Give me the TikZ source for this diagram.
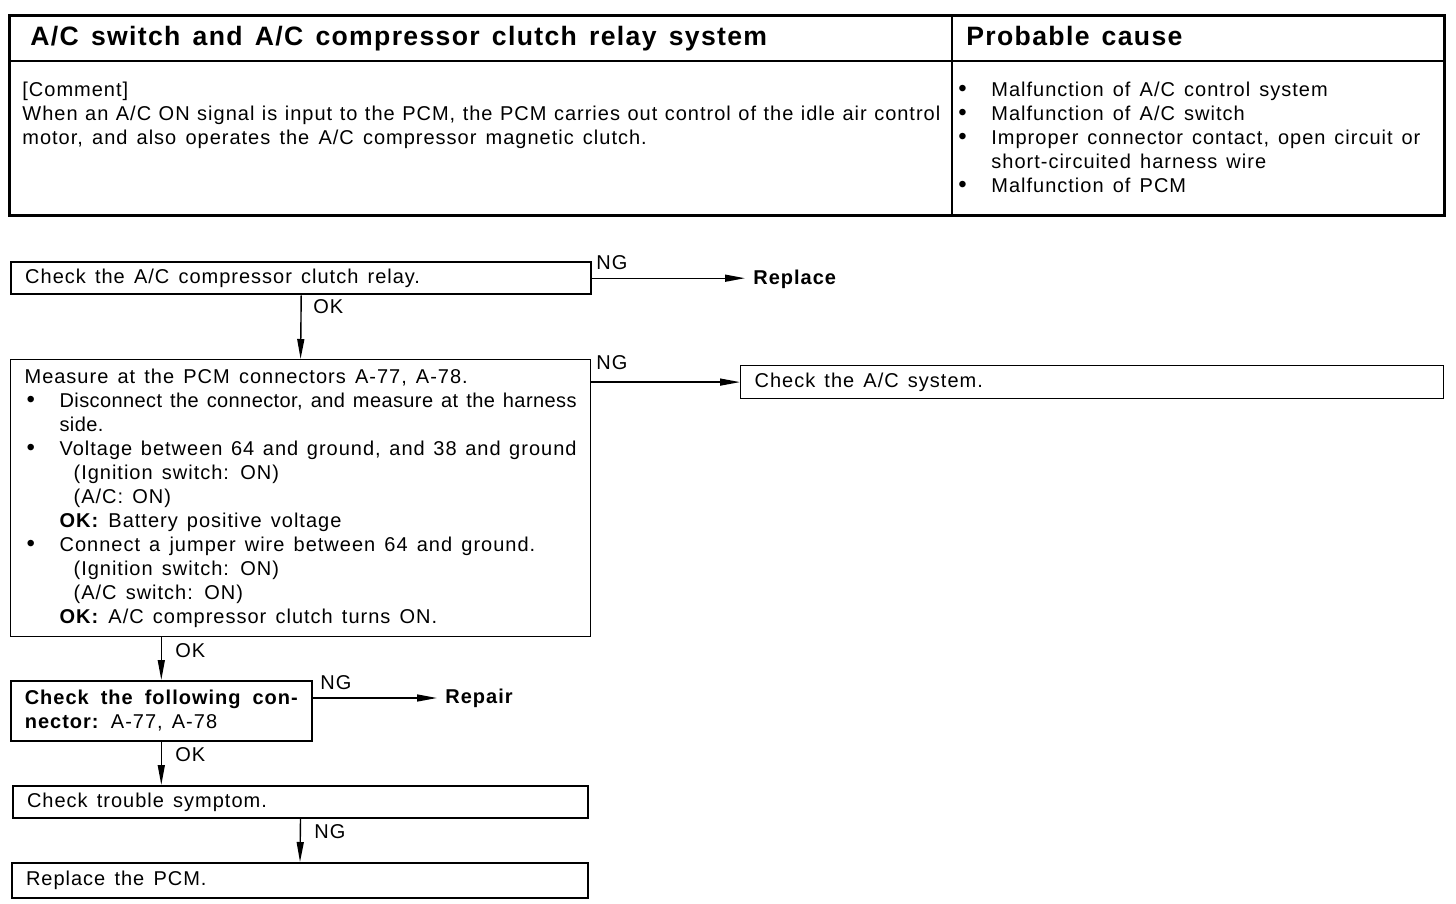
\documentclass[tikz,border=0pt]{standalone}
\usepackage{fontspec}
\setmainfont{Liberation Sans}[LetterSpace=5, WordSpace=1.4]
\usetikzlibrary{positioning,arrows.meta}

% bullet line with hanging indent, and the indented sub lines
\newcommand{\bmark}{\hangindent=17.5pt\hangafter=1\makebox[17.5pt][l]{\hspace{1pt}{\fontsize{12}{12}\selectfont\textbullet}}}
\newcommand{\bitem}{\par\noindent\bmark}
\newcommand{\subln}[1]{\par\noindent\hspace{24.5pt}#1}
\newcommand{\okln}[1]{\par\noindent\hspace{17.5pt}\textbf{OK:} #1}

\begin{document}
\begin{tikzpicture}[
    x=0.5pt, y=-0.5pt,
    every node/.style={font=\fontsize{10}{12}\selectfont},
    head/.style={font=\fontsize{13.3}{15}\selectfont\bfseries, inner sep=0pt, anchor=base west},
    para/.style={inner sep=0pt, anchor=north west, align=justify},
    box/.style={draw, line width=0.6pt, anchor=north west, inner xsep=7pt, inner ysep=3pt, align=justify},
    boxthick/.style={box, line width=1.2pt},
    lbl/.style={inner sep=0pt, anchor=west},
    result/.style={font=\fontsize{10}{12}\selectfont\bfseries, inner xsep=4pt, inner ysep=0pt, anchor=west},
    arr/.style={-{Triangle[length=10pt,width=3.5pt]}, line width=0.7pt}
  ]
  \useasboundingbox (0,0) rectangle (1456,904);

  % table on top
  \draw[line width=1.5pt] (9,16) rectangle (1444,215);
  \draw[line width=0.6pt] (9,61) -- (1444,61);
  \draw[line width=0.6pt] (952,16) -- (952,215);
  \node[head] (title) at (30,46) {A/C switch and A/C compressor clutch relay system};
  \node[head] (cause) at (966,46) {Probable cause};
  \node[para, text width=459pt] (comment) at (22,82) {%
    [Comment]\par\noindent
    When an A/C ON signal is input to the PCM, the PCM carries out control of the idle air control\linebreak
    motor, and also operates the A/C compressor magnetic clutch.};
  \node[para, text width=232pt] (causes) at (956,82) {%
    \bmark Malfunction of A/C control system
    \bitem Malfunction of A/C switch
    \bitem Improper connector contact, open circuit or\linebreak short-circuited harness wire
    \bitem Malfunction of PCM};

  % flow chart
  \node[boxthick, text width=276pt, minimum height=16pt] (relay) at (10,261) {Check the A/C compressor clutch relay.};
  \node[result] (replace) at (745,279) {Replace};
  \node[box, text width=276pt, minimum height=138.5pt] (measure) at (10,359) {%
    \noindent Measure at the PCM connectors A-77, A-78.
    \bitem{\addfontfeature{LetterSpace=2}Disconnect the connector, and measure at the harness\linebreak side.}
    \bitem Voltage between 64 and ground, and 38 and ground
    \subln{(Ignition switch: ON)}
    \subln{(A/C: ON)}
    \okln{Battery positive voltage}
    \bitem Connect a jumper wire between 64 and ground.
    \subln{(Ignition switch: ON)}
    \subln{(A/C switch: ON)}
    \okln{A/C compressor clutch turns ON.}};
  \node[box, text width=337.5pt, minimum height=16.5pt] (acsys) at (740,365) {Check the A/C system.};
  \node[box, text width=136.5pt, minimum height=30pt, line width=0.8pt] (conn) at (10,680) {%
    \textbf{Check the following con-}\linebreak\textbf{nector:} A-77, A-78};
  \node[result] (repair) at (437,698) {Repair};
  \node[boxthick, line width=1pt, text width=273.5pt, minimum height=16pt] (symptom) at (12,785) {Check trouble symptom.};
  \node[boxthick, line width=1pt, text width=274pt, minimum height=17.5pt] (pcm) at (11,862) {Replace the PCM.};

  \node[lbl] (ng1) at (596,263) {NG};
  \node[lbl] (ok1) at (313,307) {OK};
  \node[lbl] (ng2) at (596,363) {NG};
  \node[lbl] (ok2) at (175,651) {OK};
  \node[lbl] (ng3) at (320,683) {NG};
  \node[lbl] (ok3) at (175,755) {OK};
  \node[lbl] (ng4) at (314,832) {NG};

  \draw[arr] (relay.east) -- (relay.east -| replace.west);
  \draw[arr] (relay.south) -- (measure.north);
  \draw[arr] (acsys.west -| measure.east) -- (acsys.west);
  \draw[arr] (measure.south -| conn.north) -- (conn.north);
  \draw[arr] (repair.west -| conn.east) -- (repair.west);
  \draw[arr] (conn.south) -- (conn.south |- symptom.north);
  \draw[arr] (symptom.south) -- (pcm.north);
\end{tikzpicture}
\end{document}
